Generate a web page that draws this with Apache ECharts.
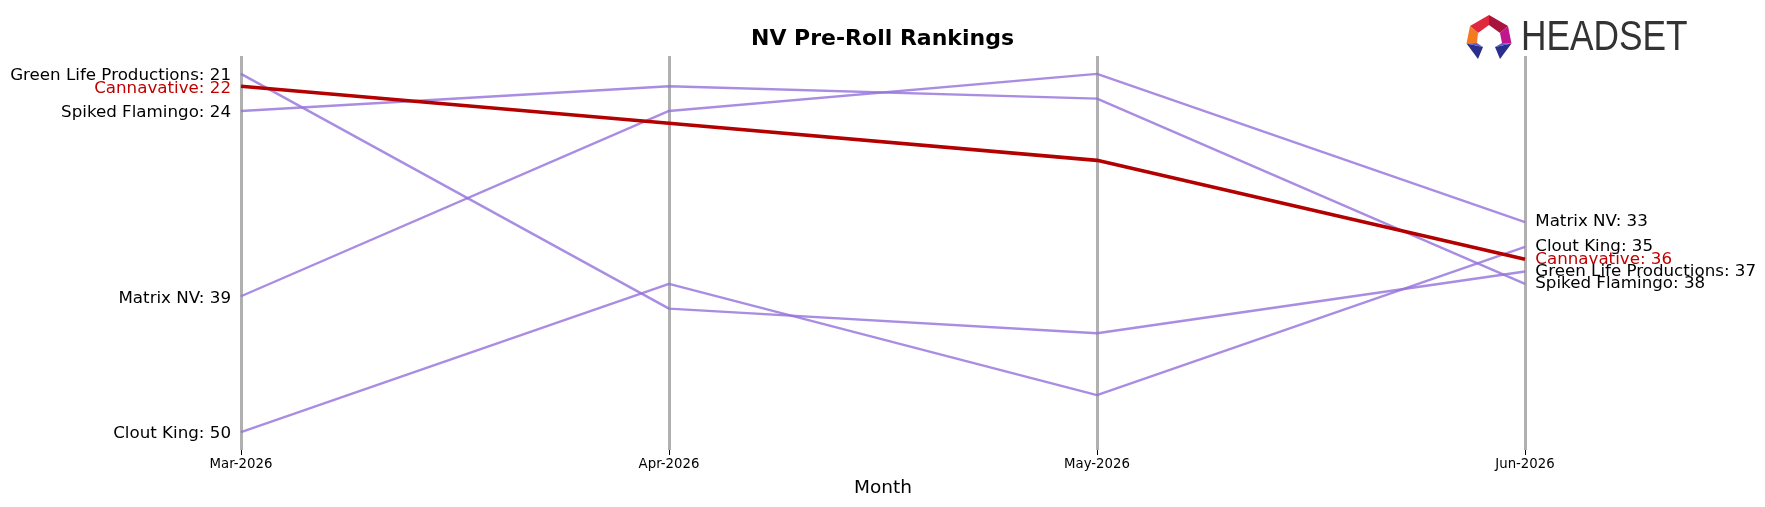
<!DOCTYPE html>
<html>
<head>
<meta charset="utf-8">
<title>NV Pre-Roll Rankings</title>
<script src="https://cdn.jsdelivr.net/npm/echarts@6/dist/echarts.min.js"></script>
<style>
  html, body { margin: 0; padding: 0; background: #fff; }
  #chart { width: 1765px; height: 507px; }
</style>
</head>
<body>
<div id="chart"></div>
<script>
  // months on the x axis
  var months = ['Mar-2026', 'Apr-2026', 'May-2026', 'Jun-2026'];

  // brand ranks per month (lower = better)
  var greenLife = [21, 40, 42, 37];
  var spikedFlamingo = [24, 22, 23, 38];
  var matrixNV = [39, 24, 21, 33];
  var cloutKing = [50, 38, 47, 35];
  var cannavative = [22, 25, 28, 36];

  var brands = [
    { name: 'Green Life Productions', ranks: greenLife },
    { name: 'Spiked Flamingo', ranks: spikedFlamingo },
    { name: 'Matrix NV', ranks: matrixNV },
    { name: 'Clout King', ranks: cloutKing },
    { name: 'Cannavative', ranks: cannavative, highlight: true }
  ];

  var FONT = '"DejaVu Sans", sans-serif';

  function buildSeries(b) {
    var lineColor = b.highlight ? '#b30000' : '#9370DB';
    var last = b.ranks.length - 1;
    return {
      name: b.name,
      type: 'line',
      data: b.ranks,
      // labels hang off symbols, so keep tiny ones
      symbol: 'circle',
      symbolSize: 0.5,
      showSymbol: true,
      showAllSymbol: true,
      z: b.highlight ? 5 : 2,
      lineStyle: b.highlight
        ? { color: lineColor, width: 3.6 }
        : { color: lineColor, width: 2.4, opacity: 0.8 },
      itemStyle: { color: lineColor },
      label: {
        show: true,
        distance: 10,
        offset: [0, 1],
        color: b.highlight ? '#c00000' : '#000',
        fontSize: 16.7,
        fontFamily: FONT,
        position: 'right',
        formatter: function (p) {
          if (p.dataIndex === 0 || p.dataIndex === last) return b.name + ': ' + p.value;
          return '';
        }
      },
      // first point label sits on the left
      labelLayout: function (p) {
        if (p.dataIndex === 0) {
          return {
            x: p.rect.x + p.rect.width / 2 - 10,
            y: p.rect.y + p.rect.height / 2 + 2,
            align: 'right',
            verticalAlign: 'middle',
            hideOverlap: false
          };
        }
        return { hideOverlap: false };
      },
      emphasis: { disabled: true }
    };
  }

  var chart = echarts.init(document.getElementById('chart'));

  chart.setOption({
    animation: false,
    backgroundColor: '#fff',
    title: {
      text: 'NV Pre-Roll Rankings',
      left: 'center',
      top: 23,
      textStyle: { fontFamily: FONT, fontWeight: 'bold', fontSize: 22, color: '#000' }
    },
    grid: { left: 241, right: 240, top: 56, bottom: 57 },
    xAxis: {
      type: 'category',
      data: months,
      boundaryGap: false,
      name: 'Month',
      nameLocation: 'middle',
      nameGap: 29,
      nameTextStyle: { fontFamily: FONT, fontSize: 18.5, color: '#000' },
      axisLine: { show: false },
      axisTick: { show: true, length: 5, lineStyle: { color: '#000', width: 1 } },
      axisLabel: { fontFamily: FONT, fontSize: 13.3, color: '#000', margin: 8 },
      splitLine: { show: true, lineStyle: { color: '#b0b0b0', width: 3 } }
    },
    yAxis: {
      type: 'value',
      inverse: true,
      min: 19.55,
      max: 51.45,
      show: false
    },
    series: brands.map(buildSeries),
    graphic: [
      // HEADSET logo mark
      { type: 'polygon', shape: { points: [[1489, 15], [1470, 26], [1478, 33], [1489, 25]] }, style: { fill: '#e0283c' } },
      { type: 'polygon', shape: { points: [[1489, 15], [1508, 26], [1500, 33], [1489, 25]] }, style: { fill: '#a8143e' } },
      { type: 'polygon', shape: { points: [[1470, 26], [1466.5, 43.5], [1477, 43], [1478, 33]] }, style: { fill: '#f47a22' } },
      { type: 'polygon', shape: { points: [[1508, 26], [1511.5, 43.5], [1502, 43], [1500, 33]] }, style: { fill: '#c0168e' } },
      { type: 'polygon', shape: { points: [[1466.5, 43.5], [1477, 43], [1483, 47]] }, style: { fill: '#5a5fd8' } },
      { type: 'polygon', shape: { points: [[1466.5, 43.5], [1483, 47], [1478, 59]] }, style: { fill: '#2b2f8c' } },
      { type: 'polygon', shape: { points: [[1511.5, 43.5], [1502, 43], [1495, 47]] }, style: { fill: '#5a5fd8' } },
      { type: 'polygon', shape: { points: [[1511.5, 43.5], [1495, 47], [1500, 59]] }, style: { fill: '#2b2f8c' } },
      {
        type: 'text',
        x: 1521,
        y: 38,
        scaleX: 0.84,
        style: {
          text: 'HEADSET',
          fill: '#333',
          font: '42px "Liberation Sans", sans-serif',
          textAlign: 'left',
          textVerticalAlign: 'middle'
        }
      }
    ]
  });
</script>
</body>
</html>
